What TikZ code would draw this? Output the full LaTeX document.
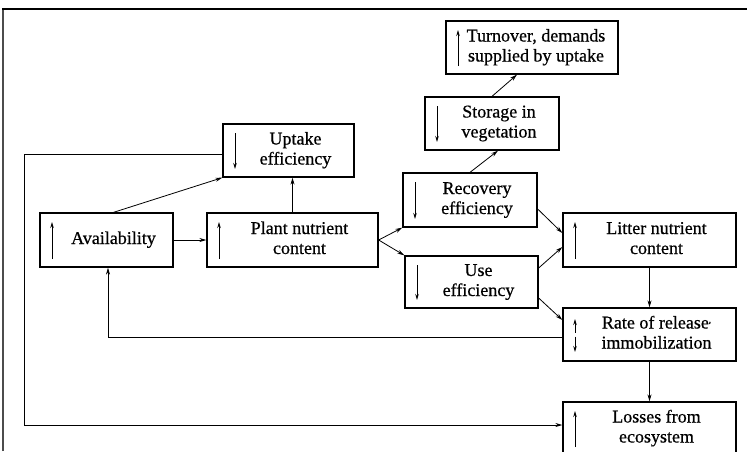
\documentclass[tikz,border=0pt]{standalone}
\usepackage{fontspec}
\setmainfont{Liberation Serif}[FakeBold=0.6]
\usetikzlibrary{arrows.meta, positioning}

\newcommand{\boxtxt}[1]{\hspace*{14pt}\begin{tabular}{@{}c@{}}#1\end{tabular}}

\begin{document}
\begin{tikzpicture}[x=1pt, y=-1pt,
  box/.style={draw, line width=1.3pt, inner sep=0pt, font=\fontsize{18}{20}\selectfont},
  flow/.style={-{Stealth[length=7pt,width=4pt]}, line width=0.8pt},
  dirarrow/.style={-{Stealth[length=6pt,width=3.5pt]}, line width=0.9pt},
  upbox/.style={box, path picture={
    \draw[dirarrow] ([xshift=12pt,yshift=8pt]path picture bounding box.south west)
      -- ([xshift=12pt,yshift=-9pt]path picture bounding box.north west);}},
  downbox/.style={box, path picture={
    \draw[dirarrow] ([xshift=12pt,yshift=-9pt]path picture bounding box.north west)
      -- ([xshift=12pt,yshift=8pt]path picture bounding box.south west);}},
  updownbox/.style={box, path picture={
    \draw[dirarrow] ([xshift=12pt,yshift=2pt]path picture bounding box.west)
      -- ([xshift=12pt,yshift=-11pt]path picture bounding box.north west);
    \draw[dirarrow] ([xshift=12pt,yshift=-2pt]path picture bounding box.west)
      -- ([xshift=12pt,yshift=9pt]path picture bounding box.south west);}}]

  \useasboundingbox (0,0) rectangle (747,451);
  \clip (0,0) rectangle (747,451);

  % frame of the scanned figure
  \draw[line width=2.5pt, black!70] (3,451) -- (3,9);
  \draw[line width=1.5pt] (2,9) -- (747,9);

  % boxes
  \node[downbox, minimum width=131pt, minimum height=53pt] (uptake) at (288.5,150.5) {\boxtxt{Uptake\\efficiency}};
  \node[upbox, minimum width=133pt, minimum height=54pt] (avail) at (106.5,240) {\boxtxt{Availability}};
  \node[upbox, minimum width=171pt, minimum height=54pt] (plant) at (292.5,240) {\boxtxt{Plant nutrient\\content}};
  \node[upbox, minimum width=172pt, minimum height=53pt] (turn) at (532,47.5) {\hspace*{-6pt}\boxtxt{Turnover, demands\\supplied by uptake}};
  \node[downbox, minimum width=134pt, minimum height=53pt] (store) at (492,123.5) {\boxtxt{Storage in\\vegetation}};
  \node[downbox, minimum width=134pt, minimum height=54pt] (recov) at (470,200) {\boxtxt{Recovery\\efficiency}};
  \node[downbox, minimum width=133pt, minimum height=52pt] (use) at (471.5,282) {\boxtxt{Use\\efficiency}};
  \node[upbox, minimum width=173pt, minimum height=54pt] (litter) at (649.5,240) {\boxtxt{Litter nutrient\\content}};
  \node[updownbox, minimum width=173pt, minimum height=53pt] (rate) at (649.5,334.5) {\boxtxt{Rate of release\raisebox{.7ex}{\small,}\\immobilization}};
  \node[upbox, minimum width=173pt, minimum height=53pt] (loss) at (649.5,428.5) {\boxtxt{Losses from\\ecosystem}};

  % connectors
  \draw[flow] ([xshift=7pt]avail.north) -- (uptake.south west);
  \draw[flow] (plant.north) -- (plant.north |- uptake.south);
  \draw[flow] (avail) -- (plant);
  \draw[flow] (plant.east) -- (recov.south west);
  \draw[flow] (plant.east) -- (use.north west);
  \draw[flow] (recov.north) -- ([xshift=6pt]store.south);
  \draw[flow] (store.north) -- ([xshift=-15pt]turn.south);
  \draw[flow] ([yshift=-9pt]recov.east) -- ([yshift=7pt]litter.west);
  \draw[flow] ([yshift=14pt]use.east) -- ([yshift=-7pt]litter.west);
  \draw[flow] ([yshift=-16pt]use.east) -- ([yshift=14.5pt]rate.west);
  \draw[flow] (litter) -- (rate);
  \draw[flow] (rate) -- (loss);
  \draw[flow] ([yshift=-2.5pt]rate.west) -| ([xshift=1.5pt]avail.south);

  % long loss path from uptake
  \coordinate (corner) at (24,425);
  \draw[flow] ([yshift=-4pt]uptake.west) -| (corner) -- (corner -| loss.west);
\end{tikzpicture}
\end{document}
